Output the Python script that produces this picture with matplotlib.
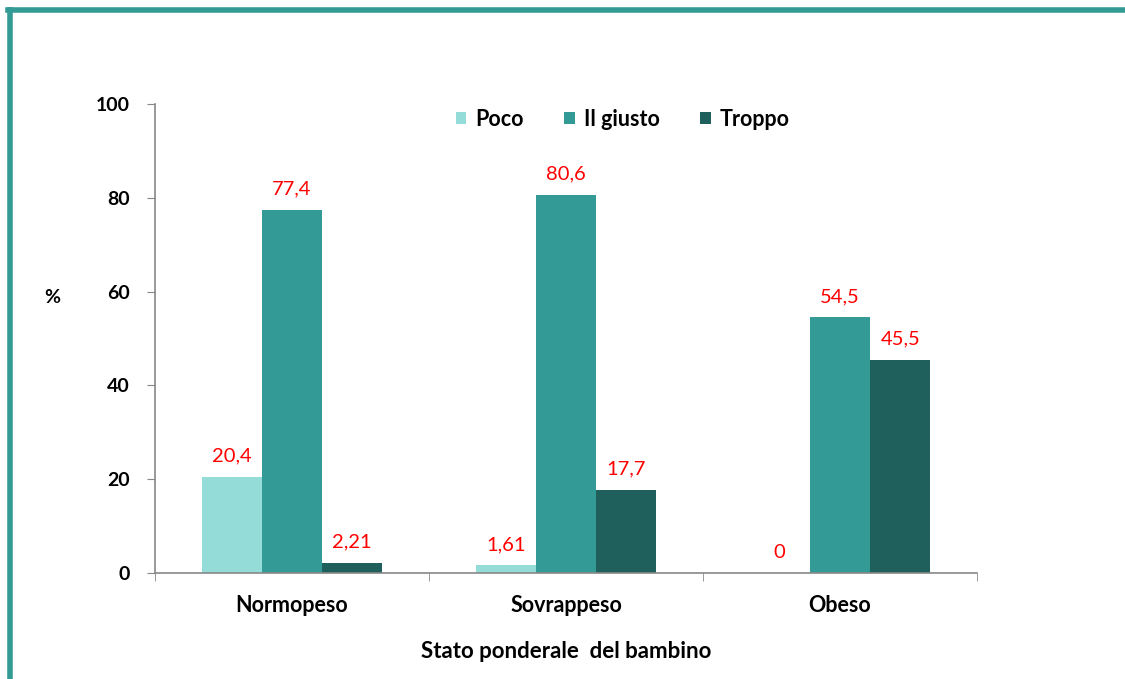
import numpy as np
import matplotlib.pyplot as plt
from matplotlib.lines import Line2D

categories = ['Normopeso', 'Sovrappeso', 'Obeso']
series_names = ['Poco', 'Il giusto', 'Troppo']
poco = [20.4, 1.61, 0]
giusto = [77.4, 80.6, 54.5]
troppo = [2.21, 17.7, 45.5]
value_labels = [['20,4', '1,61', '0'], ['77,4', '80,6', '54,5'], ['2,21', '17,7', '45,5']]
colors = ['#93dcd8', '#339a96', '#1f5f5c']

plt.rcParams['font.family'] = ['Lato', 'DejaVu Sans']

fig = plt.figure(figsize=(11.25, 6.79), dpi=100)
ax = fig.add_axes([0.1378, 0.1561, 0.7306, 0.6907])

# teal frame (left and top)
fig.add_artist(Line2D([0.0085, 0.0085], [0, 0.985], color='#339a96', lw=4, transform=fig.transFigure))
fig.add_artist(Line2D([0.0067, 1.0], [0.985, 0.985], color='#339a96', lw=4, transform=fig.transFigure))

x = np.arange(len(categories))
w = 0.22
for i, vals in enumerate([poco, giusto, troppo]):
    pos = x + (i - 1) * w
    ax.bar(pos, vals, width=w, color=colors[i], label=series_names[i])
    for p, v, t in zip(pos, vals, value_labels[i]):
        ax.annotate(t, (p, v), xytext=(0, 9), textcoords='offset points',
                    ha='center', va='bottom', color='red', fontsize=14.5)

ax.set_xlim(-0.5, 2.5)
ax.set_ylim(0, 100)
ax.set_yticks([0, 20, 40, 60, 80, 100])
ax.set_xticks(x)
ax.set_xticklabels(categories, fontsize=15.5, fontweight='bold')
ax.set_xticks([-0.5, 0.5, 1.5, 2.5], minor=True)
ax.tick_params(axis='x', which='major', length=0, pad=16)
ax.tick_params(axis='x', which='minor', length=6, color='#888888')
ax.tick_params(axis='y', length=6, color='#888888', labelsize=14, pad=12)
for lab in ax.get_yticklabels():
    lab.set_fontweight('bold')

for s in ['top', 'right']:
    ax.spines[s].set_visible(False)
for s in ['left', 'bottom']:
    ax.spines[s].set_color('#888888')
    ax.spines[s].set_linewidth(1.2)

ax.set_ylabel('%', fontsize=14, fontweight='bold', rotation=0, labelpad=0)
ax.yaxis.set_label_coords(-0.125, 0.57)
ax.set_xlabel('Stato ponderale  del bambino', fontsize=16, fontweight='bold', labelpad=18)

ax.legend(loc='center', bbox_to_anchor=(0.569, 0.968), ncol=3, frameon=False,
          prop={'size': 15.5, 'weight': 'bold'}, handlelength=0.5, handleheight=0.5,
          columnspacing=1.9, handletextpad=0.4)

fig.savefig('out.png', dpi=100)
